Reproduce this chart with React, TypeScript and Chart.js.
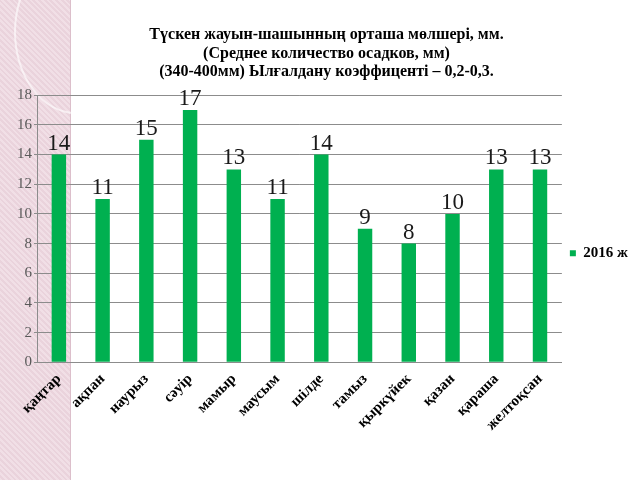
import React, { useEffect, useRef } from "react";
import { Chart, registerables } from "chart.js";

Chart.register(...registerables);

const titleLines = [
  "Түскен жауын-шашынның орташа мөлшері, мм.",
  "(Среднее количество осадков, мм)",
  "(340-400мм) Ылғалдану коэффиценті – 0,2-0,3.",
];
const months = [
  "қаңтар", "ақпан", "наурыз", "сәуір", "мамыр", "маусым",
  "шілде", "тамыз", "қыркүйек", "қазан", "қараша", "желтоқсан",
];
const seriesName = "2016 ж";
const rainfall = [14, 11, 15, 17, 13, 11, 14, 9, 8, 10, 13, 13];
const yMin = 0;
const yMax = 18;
const yStep = 2;

const SERIF = "'Liberation Serif', 'Times New Roman', serif";

const valueLabels = {
  id: "valueLabels",
  afterDatasetsDraw(chart: any) {
    const ctx = chart.ctx;
    ctx.save();
    ctx.font = `23px ${SERIF}`;
    ctx.fillStyle = "#1a1a1a";
    ctx.textAlign = "center";
    ctx.textBaseline = "alphabetic";
    chart.data.datasets.forEach((ds: any, i: number) => {
      const meta = chart.getDatasetMeta(i);
      meta.data.forEach((el: any, j: number) => {
        ctx.fillText(String(ds.data[j]), el.x, el.y - 5);
      });
    });
    ctx.restore();
  },
};

export default function App() {
  const ref = useRef<HTMLCanvasElement | null>(null);

  useEffect(() => {
    if (!ref.current) return;
    const chart = new Chart(ref.current, {
      type: "bar",
      data: {
        labels: months,
        datasets: [
          {
            label: seriesName,
            data: rainfall,
            backgroundColor: "#00B050",
            borderWidth: 0,
            barPercentage: 0.66,
            categoryPercentage: 0.5,
          },
        ],
      },
      options: {
        animation: false,
        responsive: false,
        maintainAspectRatio: false,
        layout: { padding: { left: 15, right: 2, top: 0, bottom: 38 } },
        plugins: {
          title: {
            display: true,
            text: titleLines,
            color: "#000",
            font: { family: SERIF, size: 16, weight: "bold", lineHeight: 1.15 },
            padding: { top: 26, bottom: 14 },
          },
          legend: {
            display: true,
            position: "right",
            title: {
              display: true,
              text: " ",
              font: { size: 12 },
              padding: { top: 0, bottom: 50 },
            },
            labels: {
              boxWidth: 6,
              boxHeight: 6,
              color: "#000",
              padding: 8,
              font: { family: SERIF, size: 15, weight: "bold" },
            },
          },
          tooltip: { enabled: false },
        },
        scales: {
          x: {
            grid: { display: false, drawTicks: false },
            border: { display: true, color: "#8c8c8c", width: 1 },
            ticks: {
              color: "#000",
              maxRotation: 45,
              minRotation: 45,
              autoSkip: false,
              padding: 8,
              font: { family: SERIF, size: 15, weight: "bold" },
            },
          },
          y: {
            min: yMin,
            max: yMax,
            grid: { color: "#8c8c8c", drawTicks: true, tickLength: 3 },
            border: { display: true, color: "#8c8c8c" },
            ticks: {
              stepSize: yStep,
              color: "#595959",
              padding: 2,
              font: { family: SERIF, size: 15 },
            },
          },
        },
      },
      plugins: [valueLabels],
    });
    return () => chart.destroy();
  }, []);

  return (
    <div style={{ position: "fixed", left: 0, top: 0, width: 640, height: 480, background: "#fff", overflow: "hidden" }}>
      <div
        style={{
          position: "absolute",
          left: 0,
          top: 0,
          width: 70,
          height: 480,
          background: "repeating-linear-gradient(45deg, #f1dfe6 0px, #f1dfe6 2px, #ead3dc 2px, #ead3dc 4px)",
          borderRight: "1px solid #dcbfcb",
        }}
      />
      <div
        style={{
          position: "absolute",
          left: 14,
          top: -50,
          width: 120,
          height: 160,
          borderRadius: "50%",
          border: "2px solid rgba(255,255,255,0.6)",
        }}
      />
      <canvas ref={ref} width={640} height={480} style={{ position: "absolute", left: 0, top: 0 }} />
    </div>
  );
}
